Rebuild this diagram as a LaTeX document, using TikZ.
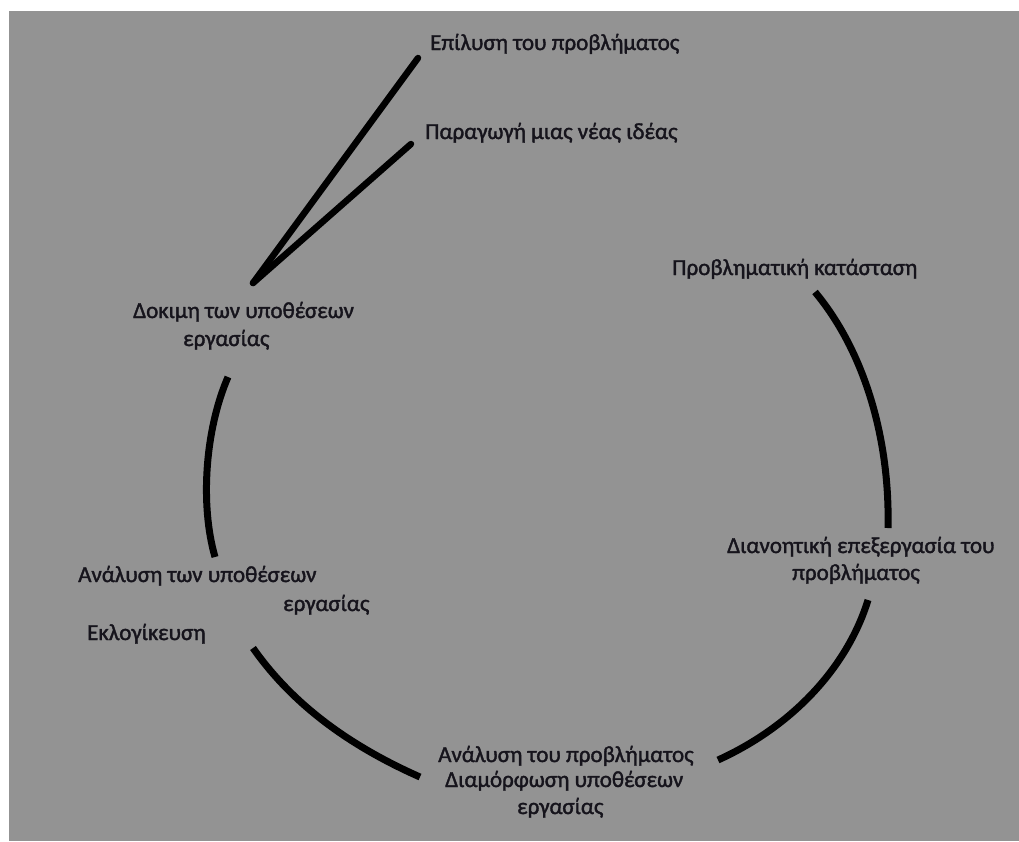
\documentclass[tikz,border=0pt]{standalone}
\usepackage{fontspec}
\setmainfont{Carlito}[BoldFont=Carlito,BoldFeatures={FakeBold=1.6}]
\definecolor{bggray}{RGB}{147,147,147}
\definecolor{txt}{RGB}{22,20,28}
\begin{document}
\begin{tikzpicture}[x=1pt,y=-1pt,
  lbl/.style={anchor=base west,inner sep=0pt,text=txt,font=\fontsize{23}{27}\selectfont\bfseries},
  arcline/.style={line width=7pt,black},
  spoke/.style={line width=6.5pt,black,line cap=round}]
\useasboundingbox (0,0) rectangle (1019,841);
\fill[white] (0,0) rectangle (1019,841);
\fill[bggray] (9,11) rectangle (1019,841);
% labels
\node[lbl] (solve) at (430,50) {Επίλυση του προβλήματος};
\node[lbl] (idea) at (425,139) {Παραγωγή μιας νέας ιδέας};
\node[lbl] (probsit) at (672,275) {Προβληματική κατάσταση};
\node[lbl] (test1) at (133,318) {Δοκιμη των υποθέσεων};
\node[lbl] (test2) at (183,346) {εργασίας};
\node[lbl] (anal1) at (78,582) {Ανάλυση των υποθέσεων};
\node[lbl] (anal2) at (283,611) {εργασίας};
\node[lbl] (ratio) at (87,640) {Εκλογίκευση};
\node[lbl] (prob1) at (438,762) {Ανάλυση του προβλήματος};
\node[lbl] (prob2) at (445,787) {Διαμόρφωση υποθέσεων};
\node[lbl] (prob3) at (517,814) {εργασίας};
\node[lbl] (mind1) at (727,553) {Διανοητική επεξεργασία του};
\node[lbl] (mind2) at (792,580) {προβλήματος};
% coordinates
\coordinate (hub) at (253,283);
\coordinate (tsolve) at (418,58);
\coordinate (tidea) at (411,144);
\coordinate (a1s) at (815,292);
\coordinate (a1e) at (888,528);
\coordinate (a2s) at (228,377);
\coordinate (a2e) at (215,557);
\coordinate (a3s) at (253,648);
\coordinate (a3e) at (420,777);
\coordinate (a4s) at (868,600);
\coordinate (a4e) at (718,760);
% spokes
\draw[spoke] (hub) -- (tsolve);
\draw[spoke] (hub) -- (tidea);
% arcs
\draw[arcline] (a1s) .. controls (865,352) and (890,440) .. (a1e);
\draw[arcline] (a2s) .. controls (205,430) and (200,505) .. (a2e);
\draw[arcline] (a3s) .. controls (293,705) and (350,746) .. (a3e);
\draw[arcline] (a4s) .. controls (848,665) and (795,725) .. (a4e);
\end{tikzpicture}
\end{document}
